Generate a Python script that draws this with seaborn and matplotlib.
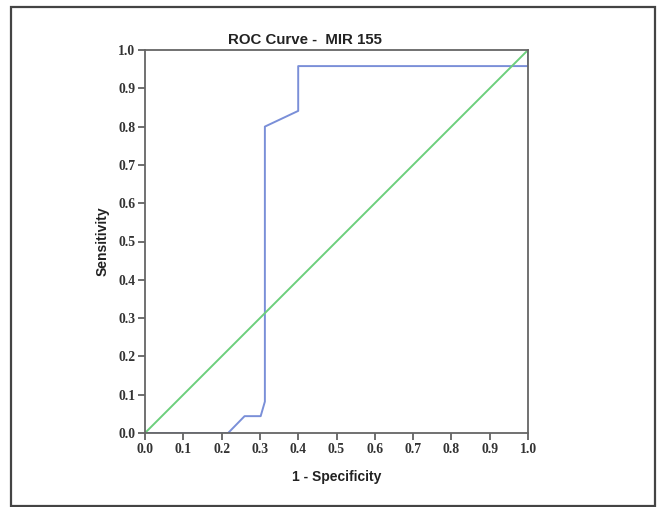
import matplotlib
matplotlib.use("Agg")
import matplotlib.pyplot as plt
import seaborn as sns
import pandas as pd
from matplotlib.patches import Rectangle

fpr = [0.0, 0.217, 0.26, 0.302, 0.313, 0.313, 0.40, 0.40, 1.0, 1.0]
tpr = [0.0, 0.0, 0.044, 0.044, 0.082, 0.80, 0.841, 0.958, 0.958, 1.0]
ref = [0.0, 1.0]
ticks = [0.0, 0.1, 0.2, 0.3, 0.4, 0.5, 0.6, 0.7, 0.8, 0.9, 1.0]
tick_labels = ["0.0", "0.1", "0.2", "0.3", "0.4", "0.5", "0.6", "0.7", "0.8", "0.9", "1.0"]

sns.set_style("white")
plt.rcParams['font.family'] = ['Liberation Sans', 'DejaVu Sans']

fig = plt.figure(figsize=(6.57, 5.07), dpi=100)
ax = fig.add_axes([145/657, (507-433)/507, 383/657, 383/507])

df = pd.DataFrame({"fpr": fpr, "tpr": tpr})
sns.lineplot(data=df, x="fpr", y="tpr", ax=ax, color="#7a8fd8", linewidth=1.4, sort=False, estimator=None)
sns.lineplot(x=ref, y=ref, ax=ax, color="#6ccf7c", linewidth=1.4)

ax.set_xlim(0, 1)
ax.set_ylim(0, 1)
ax.set_xticks(ticks)
ax.set_yticks(ticks)
ax.set_xticklabels(tick_labels, family=['Liberation Serif'], fontweight='bold', fontsize=9.8, color='#333333')
ax.set_yticklabels(tick_labels, family=['Liberation Serif'], fontweight='bold', fontsize=9.8, color='#333333')
ax.tick_params(axis='both', direction='out', length=5, width=1.2, color='#555555', pad=2,
               bottom=True, left=True)
for s in ax.spines.values():
    s.set_color('#666666')
    s.set_linewidth(1.3)
    s.set_visible(True)

ax.set_xlabel("1 - Specificity", fontsize=10, fontweight='bold', color='#222222', labelpad=10)
ax.set_ylabel("Sensitivity", fontsize=10, fontweight='bold', color='#222222', labelpad=6)
fig.text(305/657, 1 - 40/507, "ROC Curve -  MIR 155", ha='center', va='center',
         fontsize=10.8, fontweight='bold', color='#222222')

fig.patches.append(Rectangle((11/657, 1/507), (655-11)/657, (506-7)/507, transform=fig.transFigure,
                             fill=False, edgecolor='#444444', linewidth=1.6))

fig.savefig("out.png", dpi=100)
